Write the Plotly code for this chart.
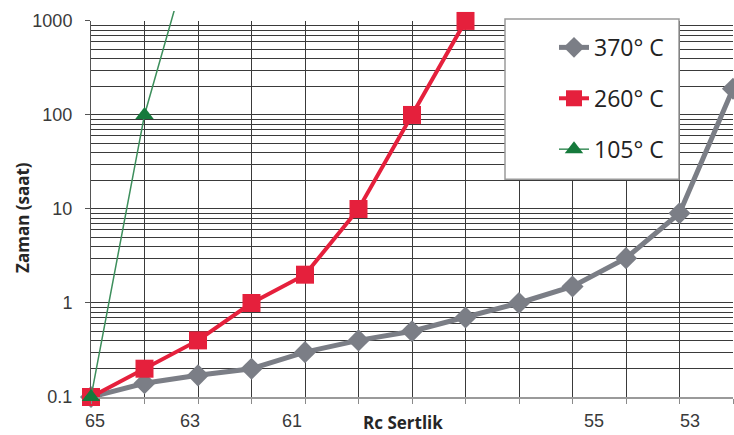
import plotly.graph_objects as go

# Hardness (Rc) vs. tempering time (hours) at three temperatures
hardness_370 = [65, 64, 63, 62, 61, 60, 59, 58, 57, 56, 55, 54, 53]
hours_370 = [0.1, 0.14, 0.17, 0.2, 0.3, 0.4, 0.5, 0.7, 1.0, 1.5, 3.0, 9.0, 190]

hardness_260 = [65, 64, 63, 62, 61, 60, 59, 58]
hours_260 = [0.1, 0.2, 0.4, 1.0, 2.0, 10, 100, 1000]

hardness_105 = [65, 64, 63]
hours_105 = [0.1, 100, 10000]

series_names = ["370° C", "260° C", "105° C"]

y_tick_vals = [0.1, 1, 10, 100, 1000]
y_tick_text = ["0.1", "1", "10", "100", "1000"]
y_title = "Zaman (saat)"

x_grid_vals = list(range(53, 66))
x_label_pos = [64.93, 63.15, 61.24, 59.17, 55.60, 53.80]
x_label_text = ["65", "63", "61", "Rc Sertlik", "55", "53"]
x_title = "Rc Sertlik"

W, H = 734, 435
M_L, M_R, M_T, M_B = 91, 1, 9, 38
plot_top_px = 19  # top of the main log grid
plot_w = W - M_L - M_R
plot_h = H - M_T - M_B
main_top = (H - M_B - plot_top_px) / plot_h
decade_px = (H - M_B - plot_top_px) / 4.0
ext_top = 3 + (plot_top_px - M_T) / decade_px

grid_col = "#3a3a3a"
tick_font = dict(family="Liberation Sans, Arial", size=18, color="#3a3a3a")
title_font = dict(family="Open Sans", size=17, color="#262626")

fig = go.Figure()

fig.add_trace(go.Scatter(
    x=hardness_370, y=hours_370, name=series_names[0], mode="lines+markers",
    line=dict(color="#7b7e86", width=5),
    marker=dict(symbol="diamond", size=17, color="#7b7e86"),
    cliponaxis=False, legendgroup="a", xaxis="x", yaxis="y"))

fig.add_trace(go.Scatter(
    x=hardness_260, y=hours_260, name=series_names[1], mode="lines+markers",
    line=dict(color="#e5203c", width=4),
    marker=dict(symbol="square", size=18, color="#e5203c"),
    cliponaxis=False, legendgroup="b", xaxis="x", yaxis="y"))

# 105 °C curve sits on an overlaid subplot whose y range reaches a little
# above 1000 h, so its steep line can run past the top of the grid
fig.add_trace(go.Scatter(
    x=hardness_105, y=hours_105, name=series_names[2], mode="lines+markers",
    line=dict(color="#3d8f5c", width=1.5),
    marker=dict(symbol="triangle-up", size=16, color="#167a3c"),
    cliponaxis=False, legendgroup="c", xaxis="x3", yaxis="y3"))

annotations = []
for pos, txt in zip(x_label_pos, x_label_text):
    is_title = txt == x_title
    annotations.append(dict(
        x=pos, xref="x", y=0, yref="paper", yanchor="top", yshift=-12,
        text=f"<b>{txt}</b>" if is_title else txt, showarrow=False,
        font=title_font if is_title else tick_font))

annotations.append(dict(
    x=(23 - M_L) / plot_w, xref="paper", xanchor="center",
    y=(H - M_B - 217) / plot_h, yref="paper", yanchor="middle",
    text=f"<b>{y_title}</b>", textangle=-90, showarrow=False,
    font=title_font))

fig.update_layout(
    width=W, height=H,
    margin=dict(l=M_L, r=M_R, t=M_T, b=M_B),
    paper_bgcolor="white", plot_bgcolor="rgba(0,0,0,0)",
    showlegend=True,
    xaxis=dict(
        range=[65, 53], domain=[0, 1], anchor="y",
        tickvals=x_grid_vals, ticktext=[""] * len(x_grid_vals),
        ticks="outside", ticklen=5, tickcolor="#8a8a8a",
        showgrid=True, gridcolor=grid_col, gridwidth=1,
        showline=True, linecolor="#9a9a9a", linewidth=1.5,
        zeroline=False, fixedrange=True),
    yaxis=dict(
        type="log", range=[-1, 3], domain=[0, main_top], anchor="x",
        tickvals=y_tick_vals, ticktext=y_tick_text,
        ticks="outside", ticklen=5, tickcolor="#555",
        tickfont=tick_font, ticklabelstandoff=9,
        showgrid=True, gridcolor=grid_col, gridwidth=1,
        minor=dict(showgrid=True, gridcolor=grid_col, gridwidth=1, dtick="D1", ticks=""),
        showline=True, linecolor="#555", linewidth=1,
        zeroline=False),
    xaxis3=dict(range=[65, 53], domain=[0, 1], anchor="y3", visible=False),
    yaxis3=dict(type="log", range=[-1, ext_top], domain=[0, 1], anchor="x3", visible=False),
    legend=dict(
        x=(554 - M_L) / plot_w, xanchor="left",
        y=(H - M_B - 24) / plot_h, yanchor="top",
        bgcolor="rgba(0,0,0,0)", borderwidth=0,
        font=dict(family="Open Sans", size=23, color="#222"),
        tracegroupgap=18),
    annotations=annotations,
    shapes=[dict(
        type="rect", xref="paper", yref="paper", layer="above",
        x0=(505 - M_L) / plot_w, x1=(679 - M_L) / plot_w,
        y0=(H - M_B - 178) / plot_h, y1=(H - M_B - 17) / plot_h,
        line=dict(color="#9a9a9a", width=1.5), fillcolor="white")],
)

fig.write_html("out.html")
